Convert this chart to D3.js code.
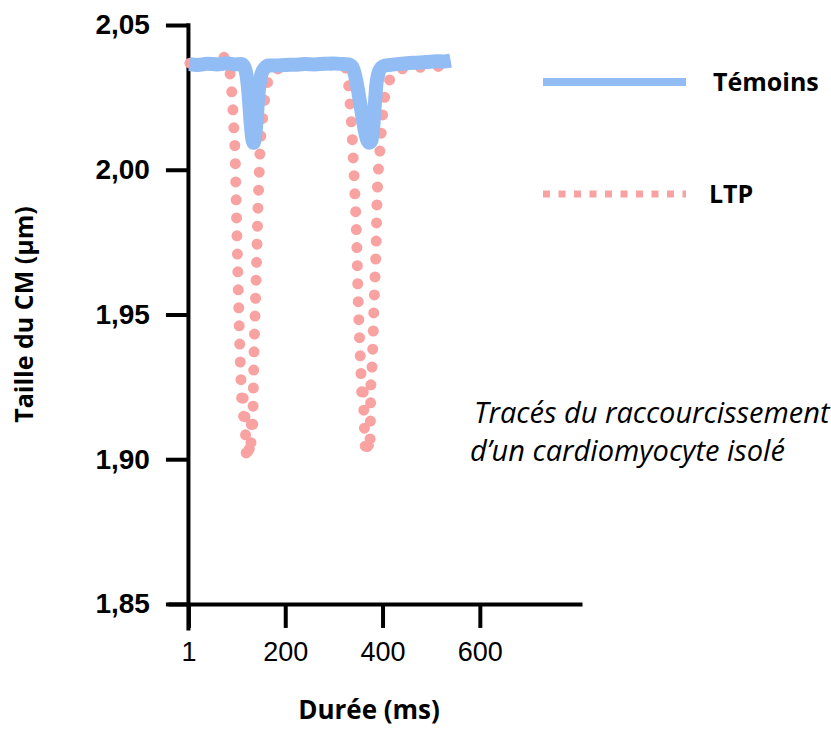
<!DOCTYPE html>
<html>
<head>
<meta charset="utf-8">
<script src="https://cdn.jsdelivr.net/npm/d3@7"></script>
<style>
  body { margin: 0; background: #fff; }
  svg { display: block; font-family: "Open Sans", sans-serif; }
</style>
</head>
<body>
<figure id="chart" style="margin:0"></figure>
<script>
// Témoins (control) trace: time (ms) and CM length (µm)
const temoinsTime = [3, 20, 40, 60, 80, 95, 110, 116, 120, 123, 126, 129, 132, 135, 138, 141, 144, 147, 151, 157, 166,
  180, 200, 220, 240, 260, 280, 300, 320, 330, 338, 343, 348, 353, 358, 363, 368, 373, 377, 381, 384, 387, 391, 397,
  405, 415, 430, 450, 470, 490, 510, 525, 540];
const temoinsValue = [2.0365, 2.0362, 2.0366, 2.0364, 2.0368, 2.0364, 2.0365, 2.0355, 2.0330, 2.0290, 2.0230, 2.0160,
  2.0110, 2.0093, 2.0115, 2.0170, 2.0240, 2.0295, 2.0330, 2.0350, 2.0360,
  2.0360, 2.0362, 2.0363, 2.0365, 2.0364, 2.0366, 2.0367, 2.0365, 2.0364, 2.0355, 2.0330, 2.0290, 2.0240, 2.0190,
  2.0140, 2.0105, 2.0093, 2.0100, 2.0150, 2.0220, 2.0290, 2.0330, 2.0352,
  2.0360, 2.0362, 2.0365, 2.0368, 2.0370, 2.0372, 2.0375, 2.0374, 2.0377];

// LTP trace
const ltpTime = [4, 20, 40, 55, 65, 72, 78, 82, 88, 92.5, 94.6, 96.7, 98.7, 100.8, 102.8, 104.9, 106.9, 109, 111, 113,
  115, 117, 119, 121, 123, 125, 127, 129, 131, 133, 134.5, 135.7, 137.7, 139.8, 141.9, 143.9, 146, 148, 154.2, 162.4,
  172.7, 189, 210, 230, 250, 270, 290, 310, 318.7, 328.9, 333.1, 337.2, 339.2, 341.3, 343.3, 345.4, 347.4, 349.5,
  351.5, 353.6, 355.6, 357.7, 359.7, 361.8, 363.9, 365.9, 368, 370.1, 372.1, 374.2, 376.2, 378.3, 380.4, 382.4,
  384.5, 386.5, 388.6, 390.6, 392.7, 394.7, 400.9, 411.2, 425.6, 446, 465, 485, 505, 525, 541];
const ltpValue = [2.0368, 2.0370, 2.0368, 2.0372, 2.0385, 2.0390, 2.0380, 2.0369, 2.0310, 2.0206, 2.0137, 2.0068,
  1.9923, 1.9768, 1.9630, 1.9491, 1.9370, 1.9274, 1.9200, 1.9230, 1.9120, 1.9150, 1.9050, 1.8997, 1.9030, 1.9000,
  1.9060, 1.9040, 1.9140, 1.9110, 1.9250, 1.9360, 1.9481, 1.9605, 1.9737, 1.9868, 1.9965, 2.0058, 2.0189, 2.0293,
  2.0334, 2.0351, 2.0360, 2.0362, 2.0360, 2.0363, 2.0362, 2.0365, 2.0369, 2.0313, 2.0230, 2.0130, 2.0058, 1.9989,
  1.9910, 1.9830, 1.9723, 1.9574, 1.9474, 1.9377, 1.9300, 1.9220, 1.9250, 1.9150, 1.9060, 1.9020, 1.9050, 1.9015,
  1.9080, 1.9060, 1.9263, 1.9315, 1.9410, 1.9530, 1.9626, 1.9720, 1.9890, 1.9975, 2.0027, 2.0068, 2.0206, 2.0293,
  2.0338, 2.0350, 2.0352, 2.0355, 2.0356, 2.0358, 2.0360];

const xTicks = [1, 200, 400, 600];
const yTicks = [1.85, 1.90, 1.95, 2.00, 2.05];
const seriesNames = ["Témoins", "LTP"];
const noteLines = ["Tracés du raccourcissement", "d\u2019un cardiomyocyte isolé"];

const width = 831, height = 729;
const blue = "#92bcf4", pink = "#f8a2a2";

const svg = d3.select("#chart").append("svg")
  .attr("width", width)
  .attr("height", height);

const x = d3.scaleLinear().domain([-41, 810]).range([168, 582]);
const y = d3.scaleLinear().domain([1.841, 2.0508]).range([630, 22.7]);

const fmt = d => d3.format(".2f")(d).replace(".", ",");

// axes
const yAxis = svg.append("g")
  .attr("transform", "translate(" + x(0) + ",0)")
  .call(d3.axisLeft(y).tickValues(yTicks).tickFormat(fmt).tickSize(22).tickSizeOuter(0).tickPadding(16));
yAxis.selectAll("path, line").attr("stroke", "#000").attr("stroke-width", 4);
yAxis.selectAll("text")
  .attr("fill", "#000")
  .style("font-size", "28px")
  .style("font-weight", "700");

const xAxis = svg.append("g")
  .attr("transform", "translate(0," + y(1.85) + ")")
  .call(d3.axisBottom(x).tickValues(xTicks).tickSize(24).tickSizeOuter(0).tickPadding(14));
xAxis.selectAll("path, line").attr("stroke", "#000").attr("stroke-width", 4);
xAxis.selectAll("text")
  .attr("fill", "#000")
  .style("font-size", "27px");

svg.append("text")
  .attr("transform", "translate(33," + ((y(1.85) + y(2.05)) / 2) + ") rotate(-90)")
  .attr("text-anchor", "middle")
  .style("font-size", "25px")
  .style("font-weight", "700")
  .text("Taille du CM (µm)");

svg.append("text")
  .attr("x", 369)
  .attr("y", 719)
  .attr("text-anchor", "middle")
  .style("font-size", "26px")
  .style("font-weight", "700")
  .text("Durée (ms)");

// traces
const ltp = ltpTime.map((t, i) => ({ t: t, v: ltpValue[i] }));
const tem = temoinsTime.map((t, i) => ({ t: t, v: temoinsValue[i] }));

const line = d3.line()
  .x(d => x(d.t))
  .y(d => y(d.v))
  .curve(d3.curveMonotoneX);

svg.append("path")
  .datum(ltp)
  .attr("d", line)
  .attr("fill", "none")
  .attr("stroke", pink)
  .attr("stroke-width", 11)
  .attr("stroke-linecap", "round")
  .attr("stroke-dasharray", "0 18");

svg.append("path")
  .datum(tem)
  .attr("d", line)
  .attr("fill", "none")
  .attr("stroke", blue)
  .attr("stroke-width", 14)
  .attr("stroke-linejoin", "round");

// legend
const legend = svg.append("g");
legend.append("line")
  .attr("x1", 543).attr("x2", 686)
  .attr("y1", 82).attr("y2", 82)
  .attr("stroke", blue)
  .attr("stroke-width", 8);
legend.append("text")
  .attr("x", 713).attr("y", 91)
  .style("font-size", "25px")
  .style("font-weight", "700")
  .text(seriesNames[0]);

legend.append("line")
  .attr("x1", 543).attr("x2", 686)
  .attr("y1", 194).attr("y2", 194)
  .attr("stroke", pink)
  .attr("stroke-width", 7)
  .attr("stroke-dasharray", "7 8.5");
legend.append("text")
  .attr("x", 709).attr("y", 203)
  .style("font-size", "25px")
  .style("font-weight", "700")
  .text(seriesNames[1]);

// annotation
svg.append("text")
  .attr("y", 423)
  .style("font-size", "29px")
  .style("font-style", "italic")
  .selectAll("tspan")
  .data(noteLines)
  .enter()
  .append("tspan")
  .attr("x", (d, i) => i === 0 ? 474 : 470)
  .attr("dy", (d, i) => i === 0 ? 0 : 38)
  .text(d => d);
</script>
</body>
</html>
